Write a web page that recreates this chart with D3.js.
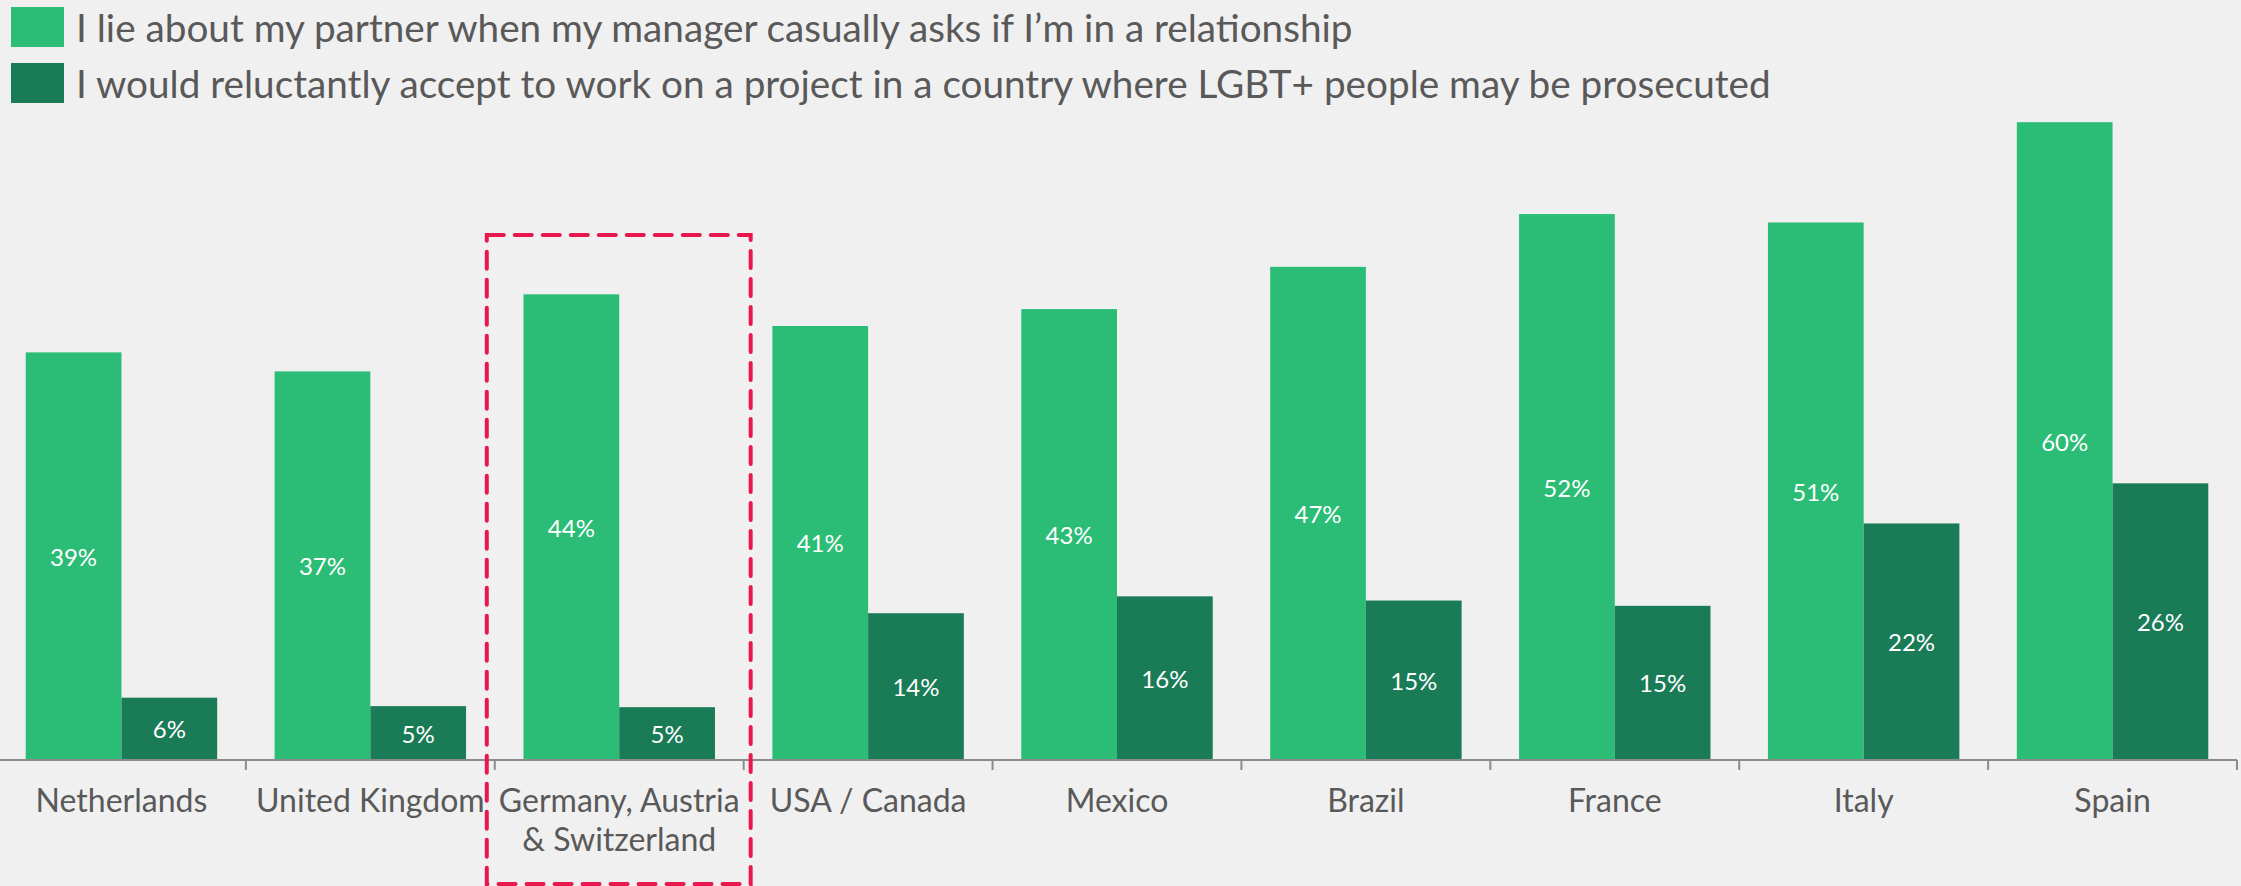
<!DOCTYPE html>
<html>
<head>
<meta charset="utf-8">
<script src="https://cdn.jsdelivr.net/npm/d3@7/dist/d3.min.js"></script>
<style>
  html, body { margin: 0; padding: 0; background: #f0f0f0; }
  svg { display: block; }
  text { font-family: Lato, "Open Sans", sans-serif; }
</style>
</head>
<body>
<script>
// ---- data ----
const categories = ["Netherlands", "United Kingdom", "Germany, Austria\n& Switzerland", "USA / Canada", "Mexico", "Brazil", "France", "Italy", "Spain"];
const seriesNames = [
  "I lie about my partner when my manager casually asks if I\u2019m in a relationship",
  "I would reluctantly accept to work on a project in a country where LGBT+ people may be prosecuted"
];
const lieValues = [38.6, 36.8, 44.1, 41.1, 42.7, 46.7, 51.7, 50.9, 60.4];
const projectValues = [5.9, 5.1, 5.0, 13.9, 15.5, 15.1, 14.6, 22.4, 26.2];
const highlighted = "Germany, Austria\n& Switzerland";
const colors = ["#2bbd76", "#1a7b57"];

// ---- layout ----
const W = 2241, H = 886;
const svg = d3.select("body").append("svg").attr("width", W).attr("height", H);
svg.append("rect").attr("width", W).attr("height", H).attr("fill", "#f0f0f0");

const baseY = 760;
const x = d3.scaleBand().domain(categories).range([-3, 2237]).paddingInner(0).paddingOuter(0);
const xs = d3.scaleBand().domain([0, 1]).range([0, x.bandwidth()]).paddingInner(0).paddingOuter(0.3);
const y = d3.scaleLinear().domain([0, 70]).range([baseY, baseY - 70 * 10.56]);

const rows = categories.map((c, i) => ({ cat: c, vals: [lieValues[i], projectValues[i]] }));

// bars
const g = svg.append("g");
const groups = g.selectAll("g.cat").data(rows).join("g")
  .attr("transform", d => `translate(${x(d.cat)},0)`);
const cells = groups.selectAll("g.bar").data(d => d.vals.map((v, s) => ({ v, s }))).join("g");
cells.append("rect")
  .attr("x", d => xs(d.s))
  .attr("width", xs.bandwidth())
  .attr("y", d => y(d.v))
  .attr("height", d => baseY - y(d.v))
  .attr("fill", d => colors[d.s]);
cells.append("text")
  .attr("x", d => xs(d.s) + xs.bandwidth() / 2)
  .attr("y", d => (y(d.v) + baseY) / 2)
  .attr("text-anchor", "middle")
  .attr("dominant-baseline", "central")
  .attr("fill", "#ffffff")
  .attr("font-size", 24)
  .text(d => Math.round(d.v) + "%");

// axis
const axis = svg.append("g");
axis.append("line").attr("x1", 0).attr("x2", x.range()[1]).attr("y1", baseY).attr("y2", baseY)
  .attr("stroke", "#8c8c8c").attr("stroke-width", 2);
const tickXs = categories.map(c => x(c)).concat([x.range()[1]]);
axis.selectAll("line.tick").data(tickXs).join("line")
  .attr("x1", d => d).attr("x2", d => d).attr("y1", baseY).attr("y2", baseY + 10)
  .attr("stroke", "#8c8c8c").attr("stroke-width", 2);
const labels = axis.selectAll("text.lab").data(categories).join("text")
  .attr("text-anchor", "middle")
  .attr("fill", "#595959")
  .attr("font-size", 32)
  .attr("transform", d => `translate(${x(d) + x.bandwidth() / 2},0)`);
labels.selectAll("tspan").data(d => d.split("\n")).join("tspan")
  .attr("x", 0)
  .attr("y", (d, i) => 812 + i * 39)
  .text(d => d);

// highlight box
const hx = x(highlighted);
svg.append("rect")
  .attr("x", hx - 8).attr("y", 235)
  .attr("width", x.bandwidth() + 15).attr("height", 649)
  .attr("fill", "none").attr("stroke", "#e8174e").attr("stroke-width", 4)
  .attr("stroke-dasharray", "17,11").attr("stroke-linecap", "round");

// legend
const leg = svg.append("g");
seriesNames.forEach((name, i) => {
  leg.append("rect").attr("x", 11).attr("y", 7 + i * 56).attr("width", 53).attr("height", 40).attr("fill", colors[i]);
  leg.append("text").attr("x", 76).attr("y", 42 + i * 56)
    .attr("fill", "#595959").attr("font-size", 38.7).text(name);
});
</script>
</body>
</html>
